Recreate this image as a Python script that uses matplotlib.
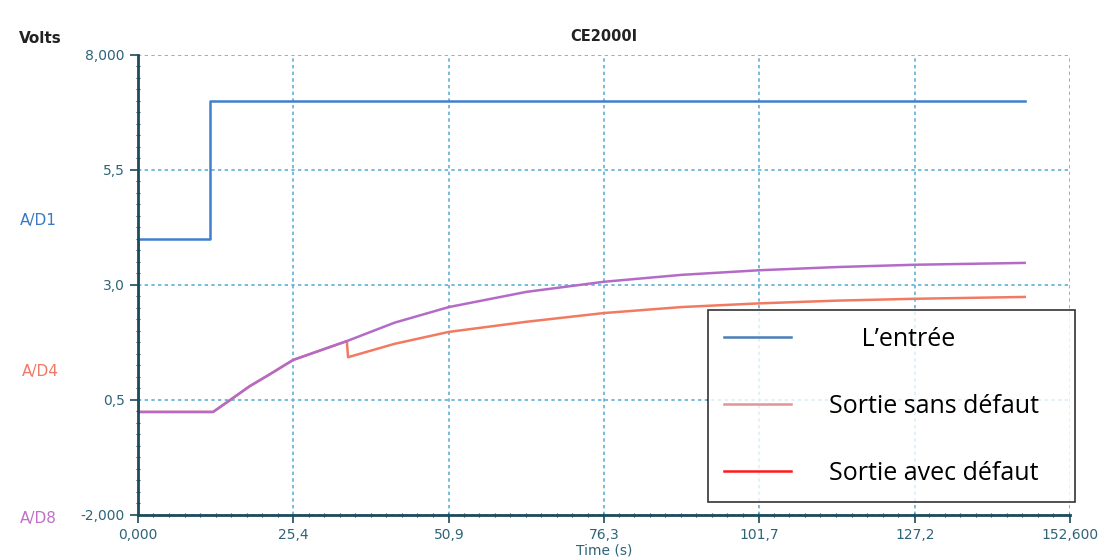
import numpy as np
import matplotlib
matplotlib.use('Agg')
from matplotlib import pyplot as plt
from matplotlib.lines import Line2D
from matplotlib.ticker import AutoMinorLocator

# input step (A/D1)
t_in = [0.0, 0.0, 11.8, 11.8, 145.2]
v_in = [0.24, 4.0, 4.0, 7.0, 7.0]

# output without fault (A/D8)
t_ok = [0.0, 12.3, 15.1, 18.3, 21.6, 25.4, 34.2, 42.0, 50.9, 63.6, 76.3, 89.0, 101.7, 114.5, 127.2, 145.2]
v_ok = [0.24, 0.24, 0.50, 0.80, 1.06, 1.37, 1.78, 2.18, 2.52, 2.85, 3.07, 3.22, 3.32, 3.39, 3.44, 3.48]

# output with fault (A/D4)
t_bad = [0.0, 12.3, 15.1, 18.3, 21.6, 25.4, 34.2, 34.4, 42.0, 50.9, 63.6, 76.3, 89.0, 101.7, 114.5, 127.2, 145.2]
v_bad = [0.24, 0.24, 0.50, 0.80, 1.06, 1.37, 1.78, 1.43, 1.72, 1.98, 2.20, 2.39, 2.52, 2.60, 2.66, 2.70, 2.74]

xticks = [0.0, 25.4, 50.9, 76.3, 101.7, 127.2, 152.6]
xlabels = ['0,000', '25,4', '50,9', '76,3', '101,7', '127,2', '152,600']
yticks = [-2.0, 0.5, 3.0, 5.5, 8.0]
ylabels = ['-2,000', '0,5', '3,0', '5,5', '8,000']

legend_labels = ["     L\u2019entr\u00e9e", 'Sortie sans d\u00e9faut', 'Sortie avec d\u00e9faut']
legend_colors = ['#4a7ebb', '#e39597', '#ff1a1a']

axcol = '#1e4b5c'
tickcol = '#2f6478'
gridcol = '#5fb0d6'

fig = plt.figure(figsize=(11.11, 5.6), dpi=100)
ax = fig.add_axes([0.1242, 0.0804, 0.8388, 0.8214])

ax.plot(t_bad, v_bad, color='#f27a62', lw=1.8)
ax.plot(t_ok, v_ok, color='#b46bc8', lw=1.8)
ax.plot(t_in, v_in, color='#3f80cc', lw=1.8)

ax.set_xlim(0, 152.6)
ax.set_ylim(-2, 8)
ax.set_xticks(xticks)
ax.set_xticklabels(xlabels)
ax.set_yticks(yticks)
ax.set_yticklabels(ylabels)
ax.xaxis.set_minor_locator(AutoMinorLocator(10))
ax.yaxis.set_minor_locator(AutoMinorLocator(10))
ax.tick_params(which='major', direction='out', length=6, width=1.2, color=axcol,
               labelsize=10, labelcolor=tickcol)
ax.tick_params(which='minor', direction='inout', length=3, width=0.8, color=axcol)
ax.grid(True, which='major', color=gridcol, linestyle=(0, (2, 2)), lw=1.2)

for s in ['top', 'right']:
    ax.spines[s].set_visible(False)
for s in ['left', 'bottom']:
    ax.spines[s].set_color(axcol)
    ax.spines[s].set_linewidth(2)

ax.set_title('CE2000I', fontsize=10.5, fontweight='bold', color='#222222', pad=10)
fig.text(0.017, 0.932, 'Volts', fontsize=11, fontweight='bold', color='#222222', va='center')
ax.set_xlabel('Time (s)', fontsize=10, color=tickcol, labelpad=1)

fig.text(0.018, 0.607, 'A/D1', fontsize=11, color='#3a78c8', va='center')
fig.text(0.020, 0.336, 'A/D4', fontsize=11, color='#f07866', va='center')
fig.text(0.018, 0.075, 'A/D8', fontsize=11, color='#c070c8', va='center')

handles = [Line2D([0], [0], color=c, lw=1.8) for c in legend_colors]
leg = fig.legend(handles, legend_labels, loc='lower left',
                 bbox_to_anchor=(0.637, 0.1036, 0.331, 0.343), mode='expand',
                 frameon=True, fancybox=False, edgecolor='black',
                 handlelength=2.7, handletextpad=1.5, labelspacing=1.68,
                 borderpad=0.65, borderaxespad=0,
                 prop={'family': 'Open Sans', 'size': 18})
leg.get_frame().set_linewidth(1.2)

fig.savefig('out.png', dpi=100)
